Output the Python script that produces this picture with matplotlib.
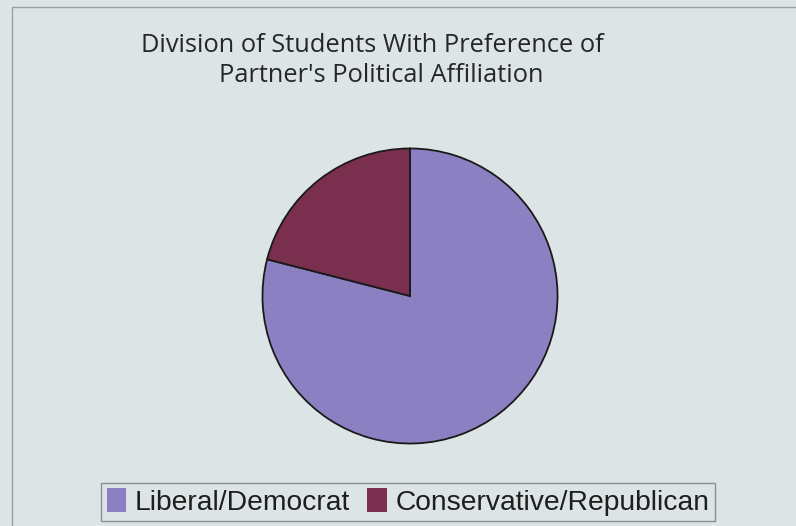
import matplotlib.pyplot as plt
from matplotlib.patches import Rectangle

labels = ["Liberal/Democrat", "Conservative/Republican"]
shares = [79, 21]
colors = ["#8b80c2", "#7b2f4e"]
title_lines = ["Division of Students With Preference of", "Partner's Political Affiliation"]

W, H = 796, 526
fig = plt.figure(figsize=(W / 100, H / 100), dpi=100)
fig.patch.set_facecolor("#dde4e5")

# outer chart frame (runs off the right/bottom edges in the scan)
fig.patches.append(Rectangle((12 / W, -0.1), 1.2, 1 - 7 / H + 0.1, transform=fig.transFigure,
                             fill=False, edgecolor="#9a9fa0", linewidth=1.0))

# title, two lines
fig.text(372 / W, 1 - 45 / H, title_lines[0], ha="center", va="center",
         fontsize=18.3, family="Open Sans", color="#262626")
fig.text(381 / W, 1 - 76 / H, title_lines[1], ha="center", va="center",
         fontsize=18.3, family="Open Sans", color="#262626")

# pie
cx, cy, r = 410, 296, 149
ax = fig.add_axes([(cx - r) / W, 1 - (cy + r) / H, 2 * r / W, 2 * r / H])
ax.pie(shares, colors=colors, startangle=90, counterclock=False, radius=1,
       wedgeprops=dict(edgecolor="#1a1a1a", linewidth=1.3))
ax.set_xlim(-1.01, 1.01)
ax.set_ylim(-1.01, 1.01)
ax.set_aspect("auto")
ax.axis("off")

# legend
handles = [Rectangle((0, 0), 1, 1, facecolor=c, edgecolor="none") for c in colors]
leg = fig.legend(handles, labels, loc="center", bbox_to_anchor=(408 / W, 1 - 502 / H),
                 ncol=2, frameon=True, fancybox=False,
                 prop=dict(family="Liberation Sans", size=20.3),
                 handlelength=0.7, handleheight=0.9, handletextpad=0.3,
                 columnspacing=0.6, borderpad=0.2, borderaxespad=0)
leg.get_frame().set_edgecolor("#7a7a7a")
leg.get_frame().set_facecolor("none")
leg.get_frame().set_linewidth(1.0)
for t in leg.get_texts():
    t.set_color("#1e1e1e")

fig.savefig("out.png", dpi=100, facecolor=fig.get_facecolor())
